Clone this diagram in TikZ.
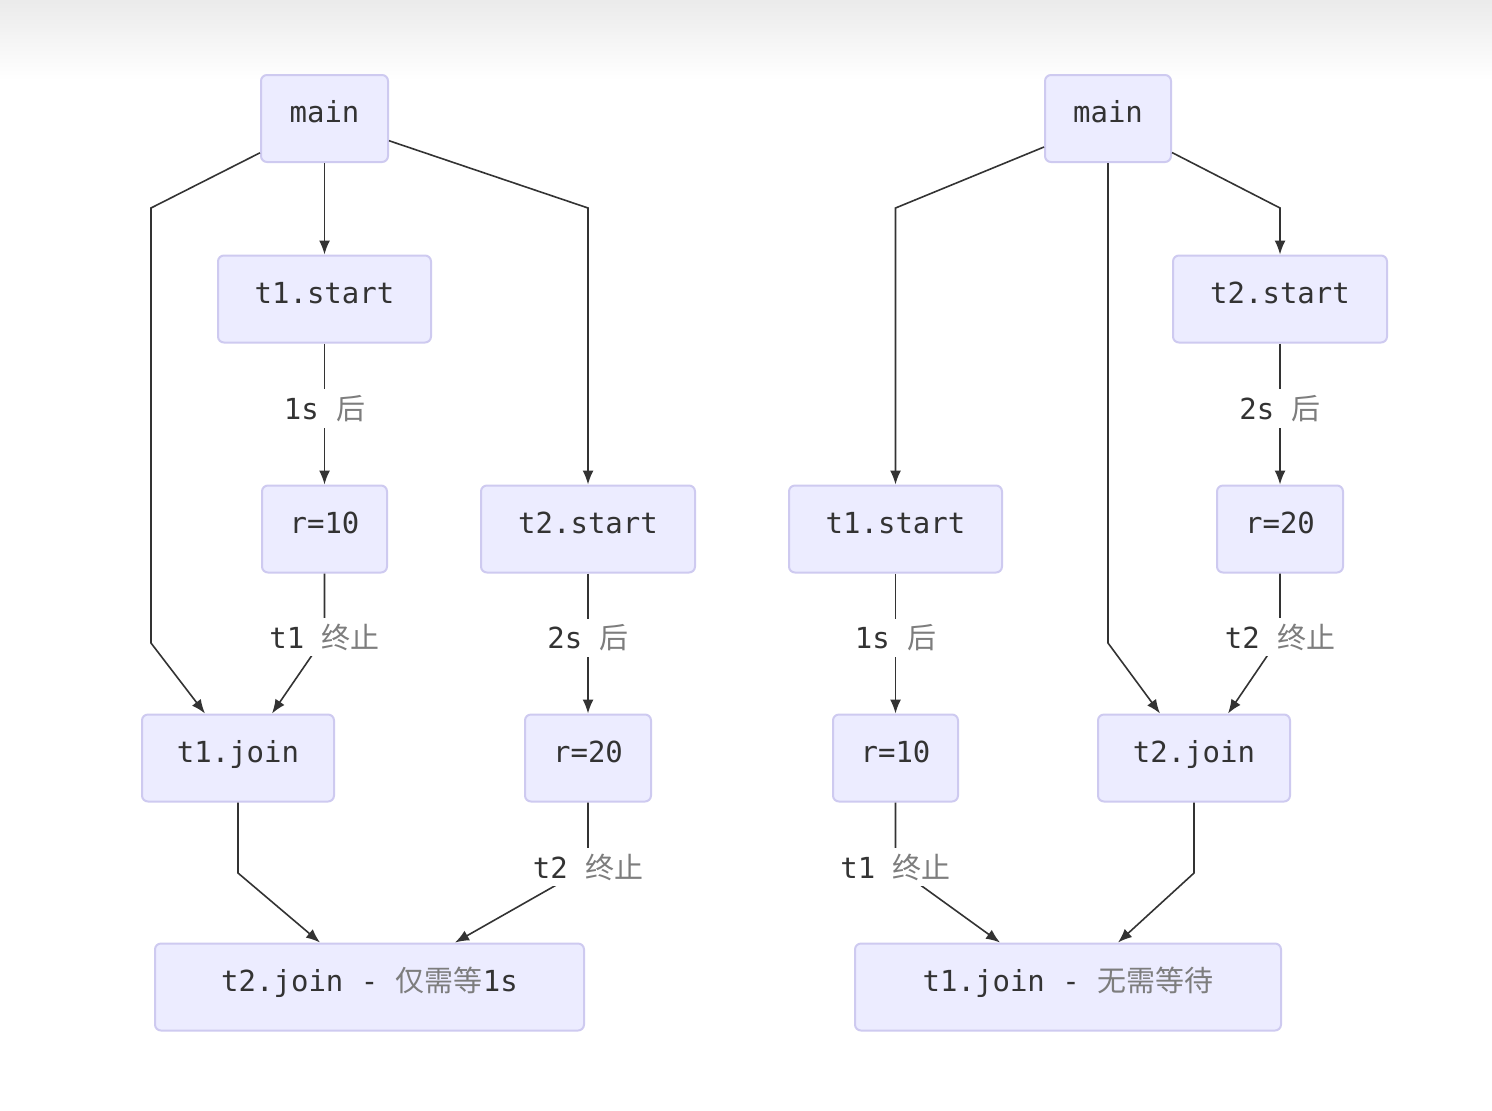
\documentclass[tikz,border=0pt]{standalone}
\usepackage{fontspec}
\setmonofont{DejaVu Sans Mono}
\newfontfamily\cjk{Noto Sans CJK SC}
\usepackage{tikz}
\usetikzlibrary{arrows.meta, calc}
\definecolor{nodebg}{RGB}{236, 236, 255}
\definecolor{nodeline}{RGB}{206, 202, 240}
\definecolor{edgecol}{RGB}{51, 51, 51}
\definecolor{txtcol}{RGB}{51, 51, 51}
\definecolor{zhgray}{RGB}{125, 125, 125}
\newcommand{\zh}[1]{{\cjk\color{zhgray}#1}}

\begin{document}
\begin{tikzpicture}[
            x=0.5pt, y=-0.5pt,
            box/.style={draw=nodeline, line width=1pt, rounded corners=3pt, fill=nodebg,
                        minimum height=43.5pt, text=txtcol, text height=0.7em, text depth=0.28em,
                        font=\ttfamily\fontsize{14.5}{16}\selectfont},
            arr/.style={-{Latex[length=7pt, width=5.5pt]}, line width=0.8pt, color=edgecol},
            lbl/.style={fill=white, inner sep=3pt, text=txtcol,
                        font=\ttfamily\fontsize{14.5}{16}\selectfont},
          ]
          % page and top shade
          \fill[white] (0,0) rectangle (1492,1110);
          \shade[top color=black!8, bottom color=white] (0,0) rectangle (1492,80);
          \useasboundingbox (0,0) rectangle (1492,1110);

          % left: t2.join only waits 1s
          \node[box, minimum width=63.5pt] (mainL) at (324.5,118.5) {main};
          \node[box, minimum width=106.5pt] (t1startL) at (324.5,299) {t1.start};
          \node[box, minimum width=62.5pt] (r10L) at (324.5,529) {r=10};
          \node[box, minimum width=107pt] (t2startL) at (588,529) {t2.start};
          \node[box, minimum width=96pt] (t1joinL) at (238,758) {t1.join};
          \node[box, minimum width=63pt] (r20L) at (588,758) {r=20};
          \node[box, minimum width=214.5pt] (t2joinL) at (369.5,987) {t2.join - \zh{仅需等}1s};
          \draw[arr] (mainL.208) -- (151,208) -- (151,643) -- ($(t1joinL.north)+(-33,0)$);
          \draw[arr] (mainL) -- (t1startL);
          \draw[arr] (mainL.341) -- (588,208) -- (t2startL.north);
          \draw[arr] (t1startL) -- node[lbl, pos=0.46] {1s \zh{后}} (r10L);
          \draw[arr] (r10L) -- (324.5,637) node[lbl] {t1 \zh{终止}} -- ($(t1joinL.north)+(34,0)$);
          \draw[arr] (t2startL) -- node[lbl, pos=0.46] {2s \zh{后}} (r20L);
          \draw[arr] (t1joinL) -- (238,873) -- ($(t2joinL.north)+(-49.5,0)$);
          \draw[arr] (r20L) -- (588,867) node[lbl] {t2 \zh{终止}} -- ($(t2joinL.north)+(85.5,0)$);

          % right: t1.join need not wait
          \node[box, minimum width=63pt] (mainR) at (1108,118.5) {main};
          \node[box, minimum width=107pt] (t2startR) at (1280,299) {t2.start};
          \node[box, minimum width=106.5pt] (t1startR) at (895.5,529) {t1.start};
          \node[box, minimum width=63pt] (r20R) at (1280,529) {r=20};
          \node[box, minimum width=62.5pt] (r10R) at (895.5,758) {r=10};
          \node[box, minimum width=96pt] (t2joinR) at (1194,758) {t2.join};
          \node[box, minimum width=213pt] (t1joinR) at (1068,987) {t1.join - \zh{无需等待}};
          \draw[arr] (mainR.204) -- (895.5,208) -- (t1startR.north);
          \draw[arr] (mainR.south) -- (1108,643) -- ($(t2joinR.north)+(-34,0)$);
          \draw[arr] (mainR.332) -- (1280,208) -- (t2startR.north);
          \draw[arr] (t2startR) -- node[lbl, pos=0.46] {2s \zh{后}} (r20R);
          \draw[arr] (t1startR) -- node[lbl, pos=0.46] {1s \zh{后}} (r10R);
          \draw[arr] (r20R) -- (1280,637) node[lbl] {t2 \zh{终止}} -- ($(t2joinR.north)+(34,0)$);
          \draw[arr] (r10R) -- (895.5,867) node[lbl] {t1 \zh{终止}} -- ($(t1joinR.north)+(-68,0)$);
          \draw[arr] (t2joinR) -- (1194,873) -- ($(t1joinR.north)+(50,0)$);
        \end{tikzpicture}
\end{document}
